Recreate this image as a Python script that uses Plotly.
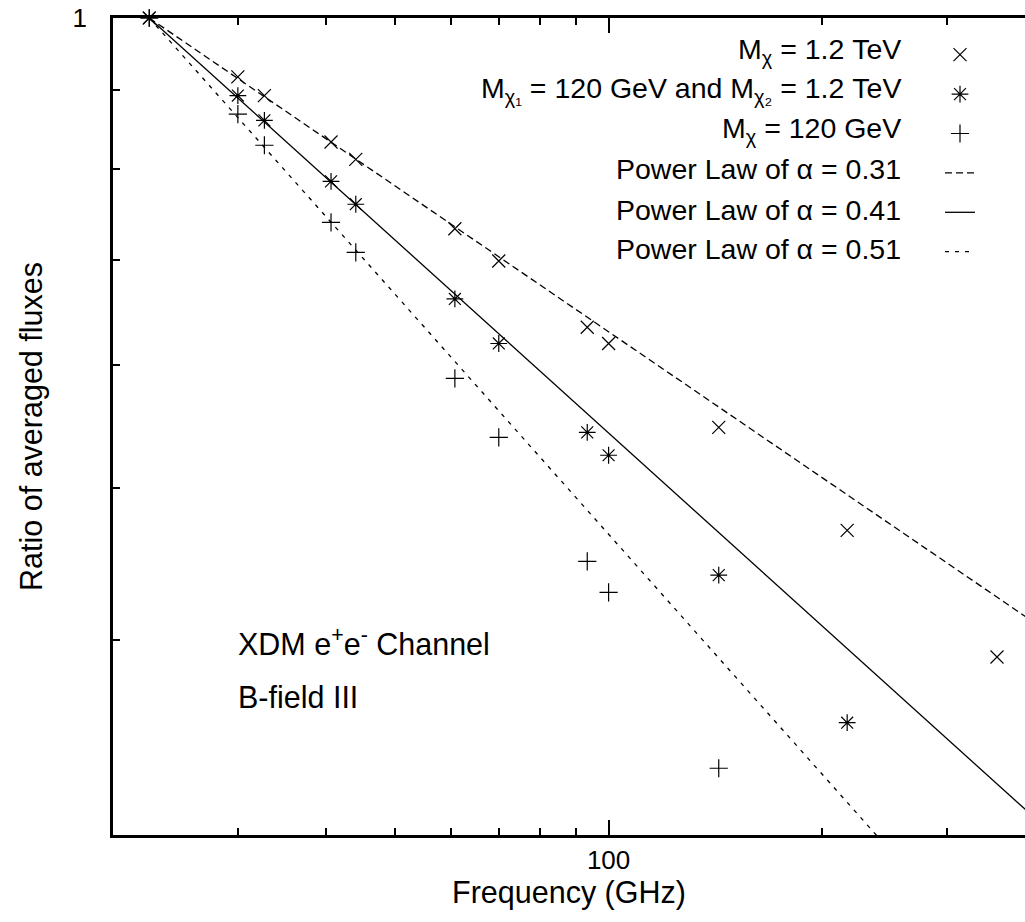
import plotly.graph_objects as go
import numpy as np

# ---- data ----
FREQ = [22.5, 30, 32.7, 40.6, 44, 60.7, 70, 93.3, 100, 143, 217, 353]
RATIO_TEV = [1, 0.917, 0.892, 0.833, 0.812, 0.733, 0.699, 0.634, 0.619, 0.547, 0.470, 0.390]
RATIO_MIX = [1, 0.892, 0.860, 0.786, 0.760, 0.661, 0.619, 0.543, 0.525, 0.440, 0.354]
RATIO_GEV = [1, 0.868, 0.829, 0.740, 0.708, 0.588, 0.539, 0.449, 0.429, 0.331]
ALPHAS = [0.31, 0.41, 0.51]
LINE_FREQ = [22.5, 400]

SERIES_LABELS = [
    "M<sub>χ</sub> = 1.2 TeV",
    "M<sub>χ₁</sub> = 120 GeV and M<sub>χ₂</sub> = 1.2 TeV",
    "M<sub>χ</sub> = 120 GeV",
    "Power Law of α = 0.31",
    "Power Law of α = 0.41",
    "Power Law of α = 0.51",
]
X_MAJOR = [100]
X_MAJOR_TEXT = ["100"]
X_MINOR = [30, 40, 50, 60, 70, 80, 90, 200, 300]
Y_MAJOR = [1]
Y_MAJOR_TEXT = ["1"]
Y_MINOR = [0.4, 0.5, 0.6, 0.7, 0.8, 0.9]

FONT = "Liberation Sans, Arial, Helvetica, sans-serif"
FS = 30.5      # titles / annotations
FS_TICK = 26
FS_LEG = 28.5

fig = go.Figure()

marker_specs = [
    (RATIO_TEV, "x-thin-open", 13),
    (RATIO_MIX, "asterisk-open", 14),
    (RATIO_GEV, "cross-thin-open", 13),
]
for vals, sym, size in marker_specs:
    fig.add_trace(go.Scatter(
        x=FREQ[:len(vals)], y=vals, mode="markers", name="",
        marker=dict(symbol=sym, size=size, color="black",
                    line=dict(color="black", width=1.2)),
        cliponaxis=False, showlegend=True,
    ))

dashes = ["7px,4px", "solid", "4px,6px"]
f0 = LINE_FREQ[0]
for a, d in zip(ALPHAS, dashes):
    fx = np.array(LINE_FREQ, dtype=float)
    fig.add_trace(go.Scatter(
        x=fx, y=(fx / f0) ** (-a), mode="lines", name="",
        line=dict(color="black", width=1.3, dash=d),
        showlegend=True,
    ))

# legend text (right aligned, symbols to the right as in the original)
row_y = [51, 90, 130, 169, 210, 249]
H = 922
L, T, B = 113, 18, 87
PW = 1025 - L
ph = H - T - B
for lab, ry in zip(SERIES_LABELS, row_y):
    fig.add_annotation(
        text=lab, xref="paper", yref="paper",
        x=(903 - L) / PW, y=1 - (ry - T) / ph,
        xanchor="right", yanchor="middle", showarrow=False,
        font=dict(family=FONT, size=FS_LEG, color="black"),
    )

fig.add_annotation(text="XDM e<sup>+</sup>e<sup>-</sup> Channel",
                   xref="paper", yref="paper", x=(236 - L) / PW,
                   y=1 - (642 - T) / ph, xanchor="left", yanchor="middle",
                   showarrow=False, font=dict(family=FONT, size=FS, color="black"))
fig.add_annotation(text="B-field III",
                   xref="paper", yref="paper", x=(236 - L) / PW,
                   y=1 - (697 - T) / ph, xanchor="left", yanchor="middle",
                   showarrow=False, font=dict(family=FONT, size=FS, color="black"))

x_range = [float(np.log10(20)), float(np.log10(386.6))]
tick_common = dict(ticks="inside", tickwidth=1.5, tickcolor="black")

fig.update_layout(
    width=1025, height=H,
    margin=dict(l=L, r=0, t=T, b=B, autoexpand=False),
    paper_bgcolor="white", plot_bgcolor="white",
    font=dict(family=FONT, size=FS, color="black"),
    showlegend=True,
    legend=dict(x=(940 - L) / PW, xanchor="left", y=1 - (30 - T) / ph,
                yanchor="top", bgcolor="rgba(0,0,0,0)",
                font=dict(size=28), itemsizing="trace", traceorder="normal"),
    xaxis=dict(
        type="log", range=x_range,
        showgrid=False, zeroline=False,
        showline=True, linecolor="black", linewidth=2.5, mirror="allticks",
        ticklen=15, **tick_common,
        tickmode="array", tickvals=X_MAJOR, ticktext=X_MAJOR_TEXT,
        ticklabelstandoff=0,
        minor=dict(tickmode="array", tickvals=X_MINOR, ticklen=7,
                   showgrid=False, **tick_common),
        title=dict(text="Frequency (GHz)", standoff=2,
                   font=dict(family=FONT, size=FS)),
        tickfont=dict(family=FONT, size=FS_TICK),
        automargin=False,
    ),
    yaxis=dict(
        type="log", range=[float(np.log10(0.3)), 0],
        showgrid=False, zeroline=False,
        showline=True, linecolor="black", linewidth=2.5, mirror=False,
        ticklen=15, **tick_common,
        tickmode="array", tickvals=Y_MAJOR, ticktext=Y_MAJOR_TEXT,
        ticklabelstandoff=18,
        minor=dict(tickmode="array", tickvals=Y_MINOR, ticklen=7,
                   showgrid=False, **tick_common),
        title=dict(text="Ratio of averaged fluxes", standoff=21,
                   font=dict(family=FONT, size=FS)),
        tickfont=dict(family=FONT, size=FS_TICK),
        automargin=False,
    ),
)

fig.write_html("out.html", config={"displayModeBar": False},
               post_script="document.body.style.margin='0';")
